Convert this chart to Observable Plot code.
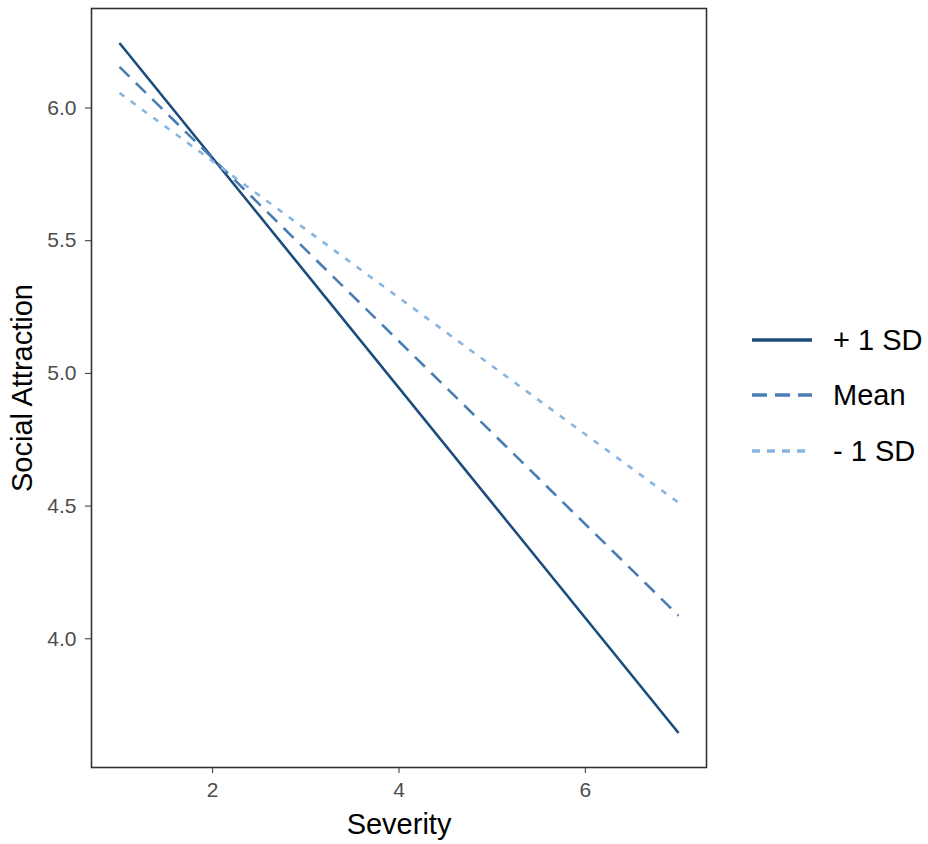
<!DOCTYPE html>
<html>
<head>
<meta charset="utf-8">
<script src="https://cdn.jsdelivr.net/npm/d3@7"></script>
<script src="https://cdn.jsdelivr.net/npm/@observablehq/plot@0.6"></script>
<style>
  html, body { margin: 0; padding: 0; background: #fff; }
  #chart svg { display: block; }
  #chart g[aria-label="x-axis tick label"] text,
  #chart g[aria-label="y-axis tick label"] text { fill: #4d4d4d; }
</style>
</head>
<body>
<div id="chart"></div>
<script>
// ---- data ----
const severity = [1, 7];
const plusSD  = [6.245, 3.645];
const meanSD  = [6.155, 4.087];
const minusSD = [6.057, 4.513];
const seriesNames = ["+ 1 SD", "Mean", "- 1 SD"];
const seriesColors = ["#1c4c7c", "#4a7db4", "#86b5e0"];
const seriesDash = [null, "14,9", "6,8"];
const xTicks = [2, 4, 6];
const yTicks = [4.0, 4.5, 5.0, 5.5, 6.0];
const xTitle = "Severity";
const yTitle = "Social Attraction";

const seriesValues = [plusSD, meanSD, minusSD];
const rows = seriesNames.map((name, i) =>
  severity.map((s, j) => ({series: name, severity: s, value: seriesValues[i][j]}))
);

const W = 928, H = 844;
const mL = 91, mR = 222, mT = 8, mB = 77;

const plot = Plot.plot({
  width: W,
  height: H,
  marginLeft: mL,
  marginRight: mR,
  marginTop: mT,
  marginBottom: mB,
  style: {fontFamily: "'Liberation Sans', Arial, sans-serif", fontSize: "21px", background: "#fff"},
  x: {domain: [0.7, 7.3]},
  y: {domain: [3.515, 6.375]},
  marks: [
    Plot.axisX({ticks: xTicks, tickSize: 6, tickPadding: 9, tickFormat: d3.format("d"), label: null, stroke: "#333", fontSize: 21}),
    Plot.axisY({ticks: yTicks, tickSize: 6, tickPadding: 9, tickFormat: d3.format(".1f"), label: null, stroke: "#333", fontSize: 21}),
    ...rows.map((data, i) => Plot.line(data, {
      x: "severity",
      y: "value",
      stroke: seriesColors[i],
      strokeWidth: 2.6,
      strokeDasharray: seriesDash[i],
      strokeLinecap: "butt"
    })),
    Plot.frame({stroke: "#333", strokeWidth: 1.6}),
    Plot.text([xTitle], {frameAnchor: "bottom", dy: 66, fontSize: 29, fill: "#000"}),
    Plot.text([yTitle], {frameAnchor: "left", textAnchor: "middle", rotate: -90, dx: -69, fontSize: 29, fill: "#000"})
  ]
});

// legend, built from the series arrays
const svg = d3.select(plot);
const lg = svg.append("g").attr("aria-label", "legend");
const legendY = [340, 395, 451];
seriesNames.forEach((name, i) => {
  lg.append("line")
    .attr("x1", 752).attr("x2", 812)
    .attr("y1", legendY[i]).attr("y2", legendY[i])
    .attr("stroke", seriesColors[i])
    .attr("stroke-width", 3.6)
    .attr("stroke-dasharray", i === 0 ? null : (i === 1 ? "15,8" : "8,7"));
  lg.append("text")
    .attr("x", 833).attr("y", legendY[i])
    .attr("dy", "0.36em")
    .attr("text-anchor", "start")
    .attr("font-size", 29)
    .attr("fill", "#000")
    .text(name);
});

document.getElementById("chart").appendChild(plot);
</script>
</body>
</html>
